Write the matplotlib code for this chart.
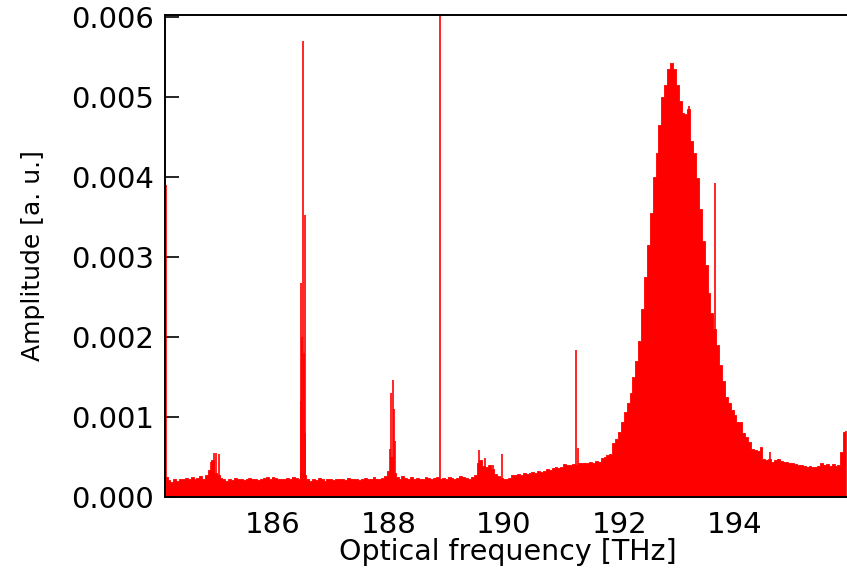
# -*- coding: utf-8 -*-
import numpy as np
import matplotlib
matplotlib.use('Agg')
import matplotlib.pyplot as plt

# spectrum bins, 0.05 THz wide, from 184.15 THz, amplitudes in 1e-4 a.u.
f_start = 184.15
f_step = 0.05
amp = [
    2.5, 2.1, 1.9, 2.2, 2.0, 2.3, 2.2, 2.4, 2.3, 2.5, 2.3, 2.4, 2.6, 2.3, 2.7, 3.4, 4.6, 3.0, 2.8, 2.4,
    2.2, 2.0, 2.3, 2.1, 2.4, 2.2, 2.3, 2.1, 2.2, 2.4, 2.2, 2.3, 2.1, 2.2, 2.4, 2.5, 2.3, 2.5, 2.4, 2.2,
    2.3, 2.2, 2.4, 2.3, 2.5, 2.4, 2.3, 3.0, 2.8, 2.2, 2.0, 2.3, 2.1, 2.4, 2.2, 2.0, 2.3, 2.2, 2.1, 2.3,
    2.2, 2.3, 2.1, 2.4, 2.2, 2.3, 2.2, 2.1, 2.3, 2.4, 2.2, 2.3, 2.5, 2.3, 2.2, 2.4, 2.6, 3.2, 5.0, 3.0,
    2.5, 2.3, 2.6, 2.4, 2.2, 2.5, 2.3, 2.4, 2.2, 2.3, 2.5, 2.4, 2.3, 2.4, 2.5, 2.2, 2.4, 2.3, 2.5, 2.4,
    2.3, 2.4, 2.6, 2.5, 2.4, 2.3, 2.5, 2.7, 4.3, 4.6, 3.9, 3.8, 4.0, 3.5, 2.9, 2.6, 2.4, 2.3, 2.2, 2.4,
    2.7, 2.8, 2.9, 2.8, 3.0, 2.9, 3.0, 3.1, 3.0, 3.2, 3.1, 3.3, 3.5, 3.4, 3.6, 3.7, 3.6, 3.8, 4.1, 4.0,
    4.0, 4.1, 4.0, 4.3, 4.2, 4.3, 4.2, 4.4, 4.3, 4.5, 4.4, 4.9, 5.0, 5.2, 5.4, 6.7, 7.3, 8.1, 9.4, 10.6,
    11.7, 13.0, 15.0, 17.0, 19.5, 23.5, 27.5, 31.5, 35.5, 40.0, 43.0, 46.5, 49.9, 51.5, 53.5, 54.2, 53.5, 51.5, 49.4, 48.0,
    47.8, 48.5, 44.5, 43.0, 39.8, 36.0, 32.0, 29.0, 25.5, 23.0, 21.0, 19.0, 16.5, 14.5, 12.5, 11.7, 10.9, 10.2, 9.4, 9.4,
    8.0, 7.5, 6.9, 6.0, 5.9, 5.8, 6.2, 4.7, 4.6, 4.8, 4.4, 4.6, 4.7, 4.5, 4.4, 4.4, 4.3, 4.2, 4.1, 4.0,
    4.0, 3.9, 3.8, 3.9, 3.75, 3.8, 3.9, 4.2, 4.0, 4.1, 3.9, 4.1, 3.9, 4.0, 5.6, 8.1,
]

# narrow lines on top of the spectrum (THz, 1e-4 a.u.)
spike_f = [184.155, 184.93, 184.97, 185.01, 185.07,
           186.48, 186.49, 186.51, 186.52, 186.53, 186.55, 186.56,
           188.03, 188.05, 188.07, 188.09, 188.11,
           188.89, 189.57, 189.67, 189.81, 189.97,
           191.25, 191.28, 193.20, 193.65, 194.61, 195.92]
spike_a = [39.0, 4.4, 5.5, 5.5, 5.4,
           12.0, 26.7, 20.0, 57.0, 18.0, 35.2, 8.0,
           6.0, 13.0, 14.6, 11.0, 7.0,
           61.0, 5.9, 4.9, 4.0, 5.4,
           18.4, 6.1, 48.8, 39.2, 5.6, 8.2]

x_ticks = [186, 188, 190, 192, 194]
y_ticks = [0.000, 0.001, 0.002, 0.003, 0.004, 0.005, 0.006]

freq = f_start + f_step * np.arange(len(amp))
amp = np.array(amp) * 1e-4
spike_a = np.array(spike_a) * 1e-4

fig = plt.figure(figsize=(8.47, 5.70), dpi=100)
ax = fig.add_axes([165 / 847, 73 / 570, 682 / 847, 482 / 570])

# 填充谱线, edge in the same red so no gaps show between bins
ax.fill_between(freq, amp, step='mid', facecolor='#ff0000', edgecolor='#ff0000', linewidth=0.6)
ax.vlines(spike_f, 0, spike_a, color='#ff0000', linewidth=1.2)

ax.set_xlim(184.13, 195.94)
ax.set_ylim(0, 0.00602)
ax.set_xticks(x_ticks)
ax.set_yticks(y_ticks)
ax.set_yticklabels(['%.3f' % v for v in y_ticks])

for s in ['left', 'bottom', 'top']:
    ax.spines[s].set_linewidth(1.4)
    ax.spines[s].set_zorder(5)
ax.spines['right'].set_visible(False)

ax.tick_params(axis='y', direction='in', length=10, width=1.2, labelsize=21, pad=8)
ax.tick_params(axis='x', length=0, labelsize=21, pad=10)

ax.set_xlabel('Optical frequency [THz]', fontsize=20.5)
ax.set_ylabel('Amplitude [a. u.]', fontsize=18)
ax.xaxis.set_label_coords(0.503, -0.085)
ax.yaxis.set_label_coords(-0.176, 0.5)

fig.savefig('out.png', dpi=100)
